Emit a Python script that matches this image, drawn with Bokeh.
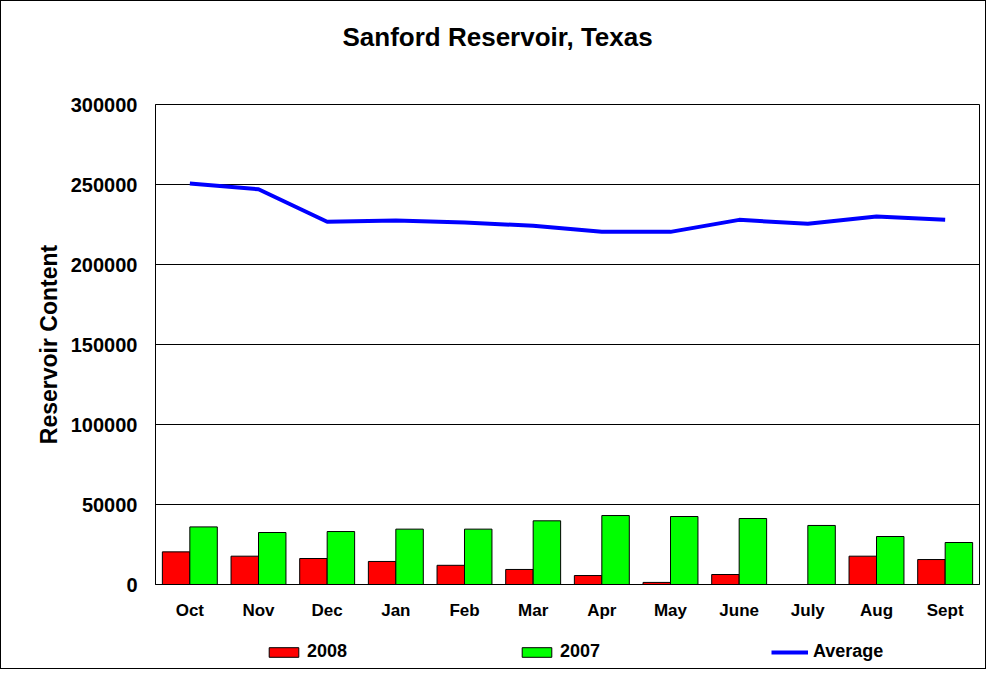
from bokeh.plotting import figure
from bokeh.layouts import column
from bokeh.models import (Range1d, FixedTicker, Legend, LegendItem, Title,
                          ColumnDataSource, FactorRange)
from bokeh.transform import dodge
from bokeh.embed import file_html
from bokeh.resources import INLINE

months = ["Oct", "Nov", "Dec", "Jan", "Feb", "Mar", "Apr", "May", "June",
          "July", "Aug", "Sept"]
y2008 = [20400, 17700, 16250, 14400, 12000, 9400, 5600, 1300, 6250, 0,
         17700, 15600]
y2007 = [36000, 32500, 33100, 34600, 34600, 39800, 43100, 42500, 41250,
         36900, 30000, 26250]
average = [250600, 247000, 226700, 227500, 226250, 224200, 220400, 220400,
           227900, 225400, 230000, 228000]
y_ticks = [0, 50000, 100000, 150000, 200000, 250000, 300000]
y_tick_labels = ["0", "50000", "100000", "150000", "200000", "250000",
                 "300000"]
series_labels = ["2008", "2007", "Average"]
series_colors = ["#ff0000", "#00ff00", "#0000ff"]

FONT = "Liberation Sans"

src = ColumnDataSource(dict(month=months, y2008=y2008, y2007=y2007,
                            avg=average))


def add_series(fig, visible=True):
    a = fig.vbar(x=dodge("month", -0.2, range=fig.x_range), top="y2008",
                 width=0.4, source=src, fill_color=series_colors[0],
                 line_color="black", line_width=1, visible=visible)
    b = fig.vbar(x=dodge("month", 0.2, range=fig.x_range), top="y2007",
                 width=0.4, source=src, fill_color=series_colors[1],
                 line_color="black", line_width=1, visible=visible)
    c = fig.line(x="month", y="avg", source=src,
                 line_color=series_colors[2], line_width=4, visible=visible)
    return a, b, c


p = figure(x_range=FactorRange(*months, range_padding=0),
           y_range=Range1d(0, 300000),
           frame_width=824, frame_height=480,
           output_backend="svg", toolbar_location=None,
           min_border_left=154, min_border_right=6, min_border_top=103,
           min_border_bottom=40, outline_line_color="black",
           outline_line_width=1)
add_series(p)

# spacer between frame and title
p.add_layout(Title(text=" ", text_font_size="32px"), "above")
t = Title(text="Sanford Reservoir, Texas", align="left", offset=187,
          text_font=FONT, text_font_size="26px", text_font_style="bold",
          text_color="black")
p.add_layout(t, "above")

p.xgrid.grid_line_color = None
p.ygrid.grid_line_color = "black"
p.ygrid.grid_line_width = 1
p.ygrid.ticker = FixedTicker(ticks=y_ticks)

p.yaxis.ticker = FixedTicker(ticks=y_ticks)
p.yaxis.major_label_overrides = {t_: l for t_, l in zip(y_ticks, y_tick_labels)}
p.yaxis.axis_label = "Reservoir Content"
p.yaxis.axis_label_text_font = FONT
p.yaxis.axis_label_text_font_size = "23px"
p.yaxis.axis_label_text_font_style = "bold"
p.yaxis.axis_label_standoff = 6
p.yaxis.major_label_text_font = FONT
p.yaxis.major_label_text_font_size = "20px"
p.yaxis.major_label_text_font_style = "bold"
p.yaxis.major_label_standoff = 12

for ax in (p.xaxis, p.yaxis):
    ax.major_tick_line_color = None
    ax.minor_tick_line_color = None
    ax.axis_line_color = "black"
    ax.major_label_text_color = "black"
    ax.axis_label_text_color = "black"

p.xaxis.major_label_text_font = FONT
p.xaxis.major_label_text_font_size = "17px"
p.xaxis.major_label_text_font_style = "bold"
p.xaxis.major_label_standoff = 10

# legend strip below the chart (same series, hidden, used as legend swatches)
pl = figure(x_range=FactorRange(*months, range_padding=0),
            y_range=Range1d(0, 300000),
            frame_width=824, frame_height=44, output_backend="svg",
            toolbar_location=None, x_axis_type=None, y_axis_type=None,
            min_border_left=154, min_border_right=6, min_border_top=0,
            min_border_bottom=0, outline_line_color=None)
pl.xgrid.visible = False
pl.ygrid.visible = False
l1, l2, l3 = add_series(pl, visible=False)
legend = Legend(items=[LegendItem(label=series_labels[0], renderers=[l1]),
                       LegendItem(label=series_labels[1], renderers=[l2]),
                       LegendItem(label=series_labels[2], renderers=[l3])],
                orientation="horizontal", location=(110, 6),
                glyph_width=37, glyph_height=12, label_standoff=5,
                label_width=72, label_height=20, spacing=139, padding=0,
                margin=0, border_line_color=None, background_fill_alpha=0,
                label_text_font=FONT, label_text_font_size="18px",
                label_text_font_style="bold", label_text_color="black",
                click_policy="none", inactive_fill_alpha=0)
pl.add_layout(legend)

lay = column(p, pl, spacing=0, styles={"border": "1px solid black"})

open("out.html", "w").write(file_html(lay, INLINE))
